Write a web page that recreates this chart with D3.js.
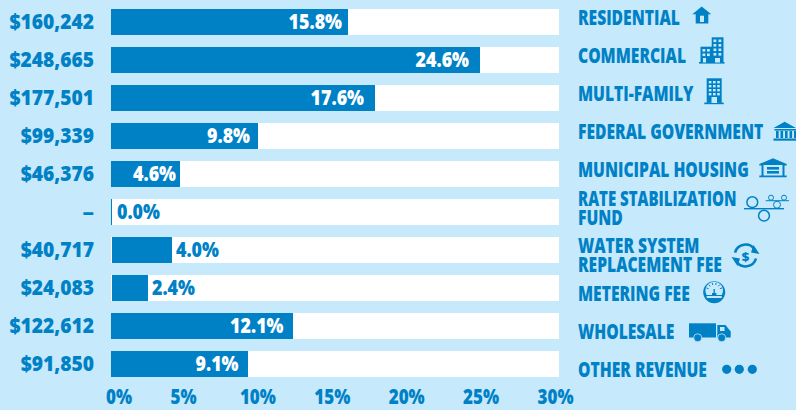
<!DOCTYPE html>
<html><head><meta charset="utf-8">
<script src="https://cdn.jsdelivr.net/npm/d3@7"></script>
<style>
html,body{margin:0;padding:0;background:#c6e9fb;overflow:hidden}
text{font-family:"Open Sans",sans-serif;font-weight:800;fill:#0081c6}
</style></head><body><svg id="c" width="796" height="410"></svg>
<script>
const categories=["RESIDENTIAL","COMMERCIAL","MULTI-FAMILY","FEDERAL GOVERNMENT","MUNICIPAL HOUSING","RATE STABILIZATION FUND","WATER SYSTEM REPLACEMENT FEE","METERING FEE","WHOLESALE","OTHER REVENUE"];
const dollars=["$160,242","$248,665","$177,501","$99,339","$46,376","–","$40,717","$24,083","$122,612","$91,850"];
const percents=[15.8,24.6,17.6,9.8,4.6,0.0,4.0,2.4,12.1,9.1];
const tickValues=[0,5,10,15,20,25,30];

// layout (not data)
const BLUE="#0081c6",BG="#c6e9fb";
const legendLines=[["RESIDENTIAL"],["COMMERCIAL"],["MULTI-FAMILY"],["FEDERAL GOVERNMENT"],["MUNICIPAL HOUSING"],["RATE STABILIZATION","FUND"],["WATER SYSTEM","REPLACEMENT FEE"],["METERING FEE"],["WHOLESALE"],["OTHER REVENUE"]];
const legendBase=[25,63,101,139,177,206,253,301,339,377];
const insets=[6,11,11,8,4,0,0,0,9,9];
const svg=d3.select("#c");
const x=d3.scaleLinear().domain([0,30]).range([111,561]);
const y=d3.scaleBand().domain(categories).range([9,377]).paddingInner(12/38).paddingOuter(0);
const g=svg.append("g");
const rows=categories.map((c,i)=>({c,i,p:percents[i],d:dollars[i]}));
const inset1=d=>d.p>0&&d.p<4.5;
g.selectAll("rect.t").data(rows).join("rect").attr("class","t")
 .attr("x",x(0)).attr("y",d=>y(d.c)).attr("width",559-x(0)).attr("height",y.bandwidth()).attr("fill","#fff");
g.selectAll("rect.b").data(rows).join("rect").attr("class","b")
 .attr("x",d=>inset1(d)?x(0)+1:x(0)).attr("y",d=>y(d.c))
 .attr("width",d=>d.p===0?1:Math.round(x(d.p)-x(0)))
 .attr("height",y.bandwidth()).attr("fill",BLUE);
const FS=21,SD=0.915,SP=0.85,ST=0.81,LEG=0.745;
g.selectAll("text.d").data(rows).join("text").attr("class","d")
 .attr("transform",d=>`translate(94,${y(d.c)+y.bandwidth()/2+7}) scale(${d.d==="–"?1.1:SD},1)`).attr("text-anchor","end")
 .attr("font-size",FS).text(d=>d.d);
g.selectAll("text.p").data(rows).join("text").attr("class","p")
 .attr("transform",d=>`translate(${d.p>4.5?x(d.p)-insets[d.i]:x(d.p)+(d.p===0?6:5)},${y(d.c)+y.bandwidth()/2+7}) scale(${SP},1)`)
 .attr("text-anchor",d=>d.p>4.5?"end":"start")
 .attr("font-size",FS)
 .style("fill",d=>d.p>4.5?"#fff":BLUE).text(d=>d.p.toFixed(1)+"%");

// axis
const tickX=d3.scaleLinear().domain([5,30]).range([183,555]);
const axis=d3.axisBottom(tickX).tickValues(tickValues).tickSize(0).tickPadding(0).tickFormat(d=>d+"%");
const ax=svg.append("g").attr("transform","translate(0,392)").call(axis);
ax.select(".domain").remove();
ax.attr("font-family",null).attr("font-size",null);
ax.selectAll(".tick").filter(d=>d===0).attr("transform","translate(119,0)");
ax.selectAll(".tick text").attr("font-size",FS).attr("dy","0.72em").attr("y",-3).attr("transform",`scale(${ST},1)`);

// legend
const lg=svg.append("g");
rows.forEach(r=>{
 legendLines[r.i].forEach((t,j)=>{
  const sx=t==="RATE STABILIZATION"?0.715:LEG;
  lg.append("text").attr("transform",`translate(578,${legendBase[r.i]+j*19}) scale(${sx},1)`)
   .attr("font-size",FS).text(t);
 });
});

// icons
const ic=svg.append("g").attr("fill",BLUE);
function P(d,fill){return ic.append("path").attr("d",d).attr("fill",fill||BLUE);}
function R(a,b,w,h,fill){return ic.append("rect").attr("x",a).attr("y",b).attr("width",w).attr("height",h).attr("fill",fill||BLUE);}
function C(a,b,r){return ic.append("circle").attr("cx",a).attr("cy",b).attr("r",r).attr("fill",BLUE);}
function O(a,b,r,sw){return ic.append("circle").attr("cx",a).attr("cy",b).attr("r",r).attr("fill","none").attr("stroke",BLUE).attr("stroke-width",sw||1.2);}
// home
P("M692.3 14.2L701.7 6.5L711.3 14.2L708.3 14.2L708.3 23.4L695.7 23.4L695.7 14.2Z");
R(700,15.7,4,6.3,BG);
// commercial
R(699,62,25.5,1.6);
R(711.7,37.3,11.8,25);
R(700.5,46.7,12,16);
for(const[a,b]of[[713.5,39.5],[718.5,39.5],[713.5,44],[718.5,44],[713.5,48.5],[718.5,48.5],[713.5,53],[718.5,53],[702.5,49],[707,49],[702.5,53.5],[707,53.5]])R(a,b,2.8,2.6,BG);
R(703,58,3,4.5,BG);R(715,58,5,4.5,BG);
// multi
R(706.7,78.3,15,24.5);R(704.3,102.5,19.4,1.7);
for(const a of[708.8,713,717.2])for(const b of[81,85,89,93])R(a,b,2.6,2.4,BG);
R(711.5,97,5.5,6,BG);
// federal
P("M784.7 121.7L796 128L773.5 128Z");
R(774.5,129,21.5,1.6);
for(const a of[776,780.5,785,789.5,794])R(a,131,2.6,7,BLUE);
R(773.5,138.5,22.5,2.2);
// municipal
P("M759.3 164L773 158.3L786.7 164L786.7 165.5L784.5 165.5L784.5 175.5L786.7 175.5L786.7 177.3L759.3 177.3L759.3 175.5L761.5 175.5L761.5 165.5L759.3 165.5Z");
R(763.5,165,19,10.5,BG);
R(767,167,12,2.6);R(767,171,12,2.6);
// rate stabilization
R(744,208,40,1.4);
O(752.3,202.2,5.4,1.5);O(764,215.7,5.4,1.5);
R(765.7,200.2,23.3,1);
O(771,197.7,2.5,1);O(784,197.7,2.5,1);O(777,204.7,3.5,1);
// water
const wc="translate(745.5,255.5)";
ic.append("path").attr("d",d3.arc()({innerRadius:9.6,outerRadius:12.2,startAngle:-1.3,endAngle:1.0})).attr("transform",wc);
ic.append("path").attr("d",d3.arc()({innerRadius:9.6,outerRadius:12.2,startAngle:1.85,endAngle:4.15})).attr("transform",wc);
P("M753.5 245L759.5 254L751 252.5Z");P("M737.5 266L731.5 257L740 258.5Z");
ic.append("text").attr("x",745.5).attr("y",260.5).attr("text-anchor","middle").attr("font-size",13).text("$");
// meter
C(714.2,292.3,11);
P("M706.6 295A8.8 8.8 0 1 1 721.8 295Z",BG);
R(706.7,296,15,2,BG);
R(712,293,4.4,2);R(713.5,289,1.4,4);
for(const a of d3.range(-70,71,28)){const t=a*Math.PI/180;ic.append("line").attr("x1",714.2+8.3*Math.sin(t)).attr("y1",290.8-8.3*Math.cos(t)).attr("x2",714.2+6*Math.sin(t)).attr("y2",290.8-6*Math.cos(t)).attr("stroke",BLUE).attr("stroke-width",1);}
// truck
R(689,323.3,27,14.2);
P("M717.3 325L725.5 325L730.7 331.5L730.7 337.5L717.3 337.5Z");
R(720,327,4.5,4,BG);
for(const a of[697.7,721.7]){ic.append("circle").attr("cx",a).attr("cy",337.8).attr("r",4).attr("fill",BLUE).attr("stroke",BG).attr("stroke-width",0.8);}
// dots
[726.7,739.3,752.3].forEach(a=>C(a,369.3,4.6));
</script></body></html>
